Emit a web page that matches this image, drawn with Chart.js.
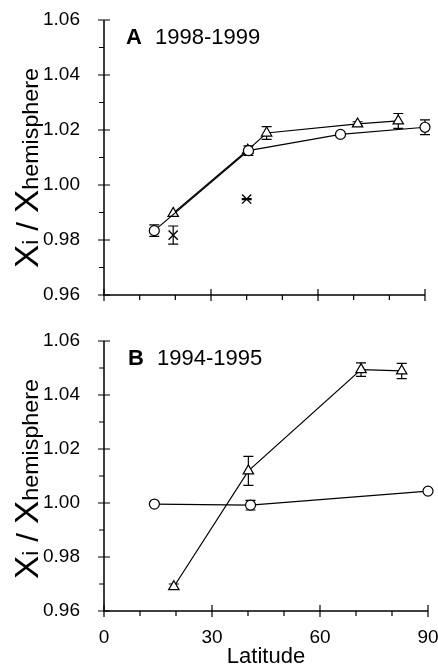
<!DOCTYPE html>
<html>
<head>
<meta charset="utf-8">
<script src="https://cdn.jsdelivr.net/npm/chart.js@4/dist/chart.umd.min.js"></script>
<style>
  html, body { margin: 0; padding: 0; background: #fff; }
  #wrap { position: relative; width: 438px; height: 664px; overflow: hidden; }
  canvas { position: absolute; left: 0; }
</style>
</head>
<body>
<div id="wrap">
  <canvas id="chartA" width="438" height="320" style="top:0"></canvas>
  <canvas id="chartB" width="438" height="344" style="top:320px"></canvas>
</div>
<script>
// ===== DATA =====
// panel A 1998-1999
const latACircle = [14.1, 40.5, 66.3, 90.0];
const valACircle = [0.9834, 1.0125, 1.0184, 1.0210];
const errACircle = [0.0021, 0.0017, 0, 0.0027];

const latATri = [19.4, 40.3, 45.6, 71.1, 82.5];
const valATri = [0.9897, 1.0127, 1.0189, 1.0222, 1.0233];
const errATri = [0, 0, 0.0023, 0.0008, 0.0027];

const latACross = [19.4, 40.0];
const valACross = [0.9818, 0.9949];
const errACross = [0.0033, 0.0002];

// panel B 1994-1995
const latBCircle = [14.0, 40.7, 90.0];
const valBCircle = [0.9996, 0.9992, 1.0044];
const errBCircle = [0, 0.0018, 0];

const latBTri = [19.4, 40.1, 71.4, 82.7];
const valBTri = [0.9690, 1.0119, 1.0494, 1.0489];
const errBTri = [0.0010, 0.0054, 0.0025, 0.0028];

// axes
const xTickLabels = [0, 30, 60, 90];
const yTickLabels = [0.96, 0.98, 1.00, 1.02, 1.04, 1.06];
const xMinorStep = 10;
const yMinorStep = 0.01;

const FONT = '"Liberation Sans", Arial, Helvetica, sans-serif';

const pts = (xs, ys) => xs.map((x, i) => ({ x: x, y: ys[i] }));

// ===== PLUGINS =====
const errorBars = {
    id: 'errorBars',
    beforeDatasetsDraw(chart) {
        const ctx = chart.ctx;
        const y = chart.scales.y;
        ctx.save();
        ctx.strokeStyle = '#000';
        ctx.lineWidth = 1.2;
        chart.data.datasets.forEach((ds, i) => {
            if (!ds.errors) return;
            const meta = chart.getDatasetMeta(i);
            meta.data.forEach((pt, j) => {
                const e = ds.errors[j];
                if (!e) return;
                const yt = y.getPixelForValue(ds.data[j].y + e);
                const yb = y.getPixelForValue(ds.data[j].y - e);
                ctx.beginPath();
                ctx.moveTo(pt.x, yt); ctx.lineTo(pt.x, yb);
                ctx.moveTo(pt.x - 5, yt); ctx.lineTo(pt.x + 5, yt);
                ctx.moveTo(pt.x - 5, yb); ctx.lineTo(pt.x + 5, yb);
                ctx.stroke();
            });
        });
        ctx.restore();
    }
};

const axesTicks = {
    id: 'axesTicks',
    beforeDatasetsDraw(chart) {
        const { ctx, chartArea: a, scales: { x, y } } = chart;
        ctx.save();
        ctx.strokeStyle = '#000';
        ctx.lineWidth = 1.5;
        ctx.beginPath();
        ctx.moveTo(a.left, a.top);
        ctx.lineTo(a.left, a.bottom);
        ctx.lineTo(a.right, a.bottom);
        ctx.stroke();
        ctx.lineWidth = 1.2;
        ctx.beginPath();
        const xMin = xTickLabels[0], xMax = xTickLabels[xTickLabels.length - 1];
        for (let k = 0; xMin + k * xMinorStep <= xMax; k++) {
            const v = xMin + k * xMinorStep;
            const px = x.getPixelForValue(v);
            if (xTickLabels.includes(v)) {
                ctx.moveTo(px, a.bottom - 6); ctx.lineTo(px, a.bottom + 6);
            } else {
                ctx.moveTo(px, a.bottom); ctx.lineTo(px, a.bottom + 5);
            }
        }
        const yMin = yTickLabels[0], yMax = yTickLabels[yTickLabels.length - 1];
        const nY = Math.round((yMax - yMin) / yMinorStep);
        for (let k = 0; k <= nY; k++) {
            const v = yMin + k * yMinorStep;
            const py = y.getPixelForValue(v);
            if (k % 2 === 0) {
                ctx.moveTo(a.left - 6, py); ctx.lineTo(a.left + 6, py);
            } else {
                ctx.moveTo(a.left - 5, py); ctx.lineTo(a.left, py);
            }
        }
        ctx.stroke();
        ctx.restore();
    }
};

const panelText = {
    id: 'panelText',
    afterDraw(chart, args, opts) {
        const ctx = chart.ctx;
        const a = chart.chartArea;
        ctx.save();
        ctx.fillStyle = '#000';
        ctx.textBaseline = 'alphabetic';
        // panel letter and years
        ctx.font = 'bold 22px ' + FONT;
        ctx.fillText(opts.letter, opts.letterX, opts.textY);
        ctx.font = '22px ' + FONT;
        ctx.fillText(opts.years, opts.letterX + 29, opts.textY);

        // y title: Xi / Xhemisphere
        const parts = [
            ['X', 33], ['i', 22], [' / ', 30], ['X', 33], ['hemisphere', 22]
        ];
        let w = 0;
        parts.forEach(p => { ctx.font = p[1] + 'px ' + FONT; w += ctx.measureText(p[0]).width; });
        const target = 200;
        ctx.translate(38, opts.titleCY);
        ctx.rotate(-Math.PI / 2);
        ctx.scale(target / w, 1);
        let cx = -w / 2;
        parts.forEach(p => {
            ctx.font = p[1] + 'px ' + FONT;
            ctx.fillText(p[0], cx, 0);
            cx += ctx.measureText(p[0]).width;
        });
        ctx.restore();

        if (opts.xTitle) {
            ctx.save();
            ctx.fillStyle = '#000';
            ctx.font = '22px ' + FONT;
            ctx.textAlign = 'center';
            ctx.textBaseline = 'alphabetic';
            ctx.fillText(opts.xTitle, (a.left + a.right) / 2, chart.height - 1);
            ctx.restore();
        }
    }
};

// ===== GRÁFICO =====
function crearPanel(id, datasets, o) {
    const ctx = document.getElementById(id);
    return new Chart(ctx, {
        type: 'scatter',
        data: { datasets: datasets },
        options: {
            responsive: false,
            animation: false,
            devicePixelRatio: 1,
            layout: { padding: { left: 0, right: o.padRight, top: o.padTop, bottom: 0 } },
            plugins: {
                legend: { display: false },
                tooltip: { enabled: false },
                panelText: o.text
            },
            scales: {
                x: {
                    type: 'linear',
                    min: xTickLabels[0],
                    max: xTickLabels[xTickLabels.length - 1],
                    afterBuildTicks: s => { s.ticks = xTickLabels.map(v => ({ value: v })); },
                    afterFit: s => {
                        s.height = o.xHeight;
                        s.paddingLeft = 0;
                        s.paddingRight = 0;
                    },
                    grid: { display: false },
                    border: { display: false },
                    ticks: {
                        display: o.showXLabels,
                        color: '#000',
                        font: { family: FONT, size: 19 },
                        padding: 7,
                        maxRotation: 0
                    }
                },
                y: {
                    type: 'linear',
                    min: yTickLabels[0],
                    max: yTickLabels[yTickLabels.length - 1],
                    afterBuildTicks: s => { s.ticks = yTickLabels.map(v => ({ value: v })); },
                    afterFit: s => {
                        s.width = 104;
                        s.paddingTop = 0;
                        s.paddingBottom = 0;
                    },
                    grid: { display: false },
                    border: { display: false },
                    ticks: {
                        color: '#000',
                        font: { family: FONT, size: 19 },
                        padding: 16,
                        callback: v => Number(v).toFixed(2)
                    }
                }
            }
        },
        plugins: [axesTicks, errorBars, panelText]
    });
}

const circleStyle = {
    showLine: true,
    clip: false,
    borderColor: '#000',
    borderWidth: 1.2,
    pointStyle: 'circle',
    pointRadius: 5,
    pointBorderWidth: 1.2,
    pointBackgroundColor: '#fff',
    pointBorderColor: '#000'
};
const triStyle = {
    showLine: true,
    clip: false,
    borderColor: '#000',
    borderWidth: 1.2,
    pointStyle: 'triangle',
    pointRadius: 6,
    pointBorderWidth: 1.2,
    pointBackgroundColor: '#fff',
    pointBorderColor: '#000'
};

crearPanel('chartA', [
    Object.assign({ label: 'circles', data: pts(latACircle, valACircle), errors: errACircle }, circleStyle),
    Object.assign({ label: 'triangles', data: pts(latATri, valATri), errors: errATri }, triStyle),
    {
        label: 'crosses',
        data: pts(latACross, valACross),
        errors: errACross,
        showLine: false,
        clip: false,
        pointStyle: 'crossRot',
        pointRadius: 6.5,
        pointBorderWidth: 1.4,
        pointBorderColor: '#000'
    }
], {
    padRight: 13, padTop: 20, xHeight: 25, showXLabels: false,
    text: { letter: 'A', years: '1998-1999', letterX: 126, textY: 44, titleCY: 168 }
});

crearPanel('chartB', [
    Object.assign({ label: 'circles', data: pts(latBCircle, valBCircle), errors: errBCircle }, circleStyle),
    Object.assign({ label: 'triangles', data: pts(latBTri, valBTri), errors: errBTri }, triStyle)
], {
    padRight: 10, padTop: 21, xHeight: 53, showXLabels: true,
    text: { letter: 'B', years: '1994-1995', letterX: 128, textY: 45, titleCY: 159, xTitle: 'Latitude' }
});
</script>
</body>
</html>
